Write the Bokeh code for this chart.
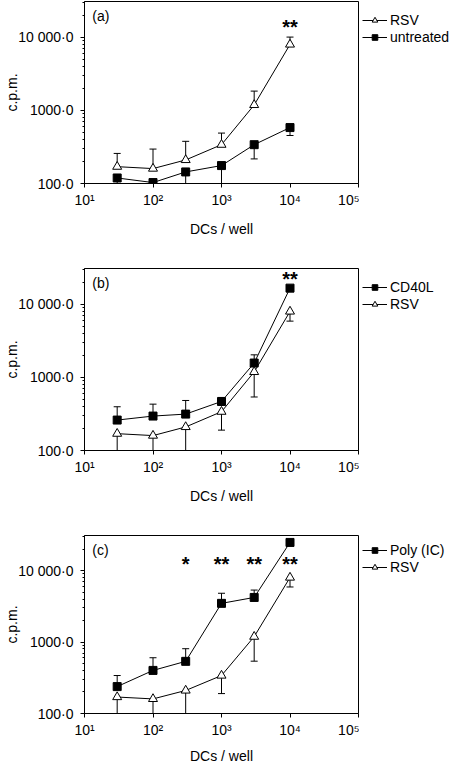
import numpy as np
from bokeh.plotting import figure
from bokeh.models import Legend, LegendItem, FixedTicker, Range1d
from bokeh.layouts import column, row
from bokeh.embed import file_html
from bokeh.resources import INLINE
from bokeh.core.properties import value

# ---- data ----
dcs_per_well = [30, 100, 300, 1000, 3000, 10000]

rsv = [170, 160, 210, 340, 1190, 8000]
rsv_err = [88, 136, 168, 150, 650, 2100]

untreated = [119, 103, 144, 176, 340, 583]
untreated_err = [40, 15, 100, 150, 123, 129]

cd40l = [261, 296, 315, 469, 1575, 16700]
cd40l_err = [136, 135, 169, 63, 465, 1500]

polyic = [238, 401, 537, 3480, 4210, 24800]
polyic_err = [102, 202, 270, 1340, 1130, 2000]

x_ticks = [10, 100, 1000, 10000, 100000]
x_tick_labels = ["10¹", "10²", "10³", "10⁴", "10⁵"]
y_ticks = [100, 1000, 10000]
y_tick_labels = ["100·0", "1000·0", "10 000·0"]

stars_a_x, stars_a = [10000], ["**"]
stars_b_x, stars_b = [10000], ["**"]
stars_c_x, stars_c = [300, 1000, 3000, 10000], ["*", "**", "**", "**"]

FONT = "Liberation Sans"
FRAME_H = 182
MAIN_W = 359
LEG_W = 91
NAN = [float("nan")]


def style_marker(p, marker, xs, ys):
    if marker == "triangle":
        return p.scatter(xs, ys, marker="triangle", size=9, fill_color="white",
                         line_color="black", line_width=1)
    return p.scatter(xs, ys, marker="square", size=8, fill_color="black",
                     line_color="black", line_width=1)


def panel(tag, series, stars_x, stars_txt, star_y, height, label_gap):
    bottom = height - 1 - FRAME_H
    p = figure(width=MAIN_W, height=height, x_axis_type="log", y_axis_type="log",
               x_range=Range1d(10, 1e5), y_range=Range1d(100, 31000),
               output_backend="svg", toolbar_location=None,
               min_border_left=84, min_border_right=1, min_border_top=1,
               min_border_bottom=bottom)
    p.xgrid.visible = False
    p.ygrid.visible = False
    p.outline_line_color = "black"
    p.outline_line_alpha = 1
    p.background_fill_color = "white"
    p.border_fill_color = "white"

    minor = [m * 10 ** e for e in (2, 3, 4) for m in range(2, 10)]
    p.xaxis.ticker = FixedTicker(ticks=x_ticks, minor_ticks=[])
    p.yaxis.ticker = FixedTicker(ticks=y_ticks, minor_ticks=minor)
    p.xaxis.major_label_overrides = dict(zip(x_ticks, x_tick_labels))
    p.yaxis.major_label_overrides = dict(zip(y_ticks, y_tick_labels))
    for ax in (p.xaxis[0], p.yaxis[0]):
        ax.axis_line_color = "black"
        ax.major_tick_line_color = "black"
        ax.minor_tick_line_color = "black"
        ax.major_tick_in = 0
        ax.major_tick_out = 4
        ax.minor_tick_in = 0
        ax.minor_tick_out = 2
        ax.major_label_text_font = FONT
        ax.major_label_text_font_size = "14px"
        ax.major_label_text_color = "black"
        ax.axis_label_text_font = FONT
        ax.axis_label_text_font_size = "14px"
        ax.axis_label_text_font_style = "normal"
        ax.axis_label_text_color = "black"
    p.xaxis.axis_label = "DCs / well"
    p.yaxis.axis_label = "c.p.m."
    p.xaxis.major_label_standoff = 4
    p.xaxis.axis_label_standoff = label_gap
    p.yaxis.major_label_standoff = 7
    p.yaxis.axis_label_standoff = -5

    x = np.array(dcs_per_well, dtype=float)
    for name, vals, err, marker, direction in series:
        y = np.array(vals, dtype=float)
        e = np.array(err, dtype=float)
        yend = y + e if direction == "up" else np.maximum(y - e, 1.0)
        p.line(x, y, line_color="black", line_width=1)
        p.segment(x, y, x, yend, line_color="black", line_width=1)
        p.scatter(x, yend, marker="dash", size=7, line_color="black", line_width=1)
        style_marker(p, marker, x, y)

    p.text(x=[13], y=[19500], text=[tag], text_font=value(FONT),
           text_font_size="14px", text_baseline="middle", text_align="left",
           text_color="black")
    p.text(x=stars_x, y=[star_y] * len(stars_x), text=stars_txt,
           text_font=value(FONT), text_font_size="20px", text_font_style="bold",
           text_baseline="middle", text_align="center", text_color="black")

    # legend lives in its own narrow figure to the right of the frame
    q = figure(width=LEG_W, height=height, x_range=Range1d(0, 1), y_range=Range1d(0, 1),
               output_backend="svg", toolbar_location=None,
               x_axis_location=None, y_axis_location=None,
               min_border_left=0, min_border_right=0, min_border_top=1,
               min_border_bottom=bottom)
    q.xgrid.visible = False
    q.ygrid.visible = False
    q.outline_line_color = None
    q.background_fill_color = "white"
    q.border_fill_color = "white"
    items = []
    for name, vals, err, marker, direction in series:
        lr = q.line(NAN, NAN, line_color="black", line_width=1)
        sr = style_marker(q, marker, NAN, NAN)
        items.append(LegendItem(label=name, renderers=[lr, sr]))
    lg = Legend(items=items, location=(3, FRAME_H - 5 - 39),
                margin=0, padding=2, spacing=1,
                glyph_width=25, glyph_height=14, label_height=16, label_standoff=3,
                border_line_color=None, background_fill_alpha=0,
                label_text_font=FONT, label_text_font_size="14px",
                label_text_color="black")
    q.add_layout(lg, "center")
    return row(p, q)


pa = panel("(a)", [("RSV", rsv, rsv_err, "triangle", "up"),
                   ("untreated", untreated, untreated_err, "square", "down")],
           stars_a_x, stars_a, 13900, 267, 10)
pb = panel("(b)", [("CD40L", cd40l, cd40l_err, "square", "up"),
                   ("RSV", rsv, rsv_err, "triangle", "down")],
           stars_b_x, stars_b, 22300, 267, 10)
pc = panel("(c)", [("Poly (IC)", polyic, polyic_err, "square", "up"),
                   ("RSV", rsv, rsv_err, "triangle", "down")],
           stars_c_x, stars_c, 12200, 232, 7)

layout = column(pa, pb, pc)
open("out.html", "w").write(file_html(layout, INLINE))
